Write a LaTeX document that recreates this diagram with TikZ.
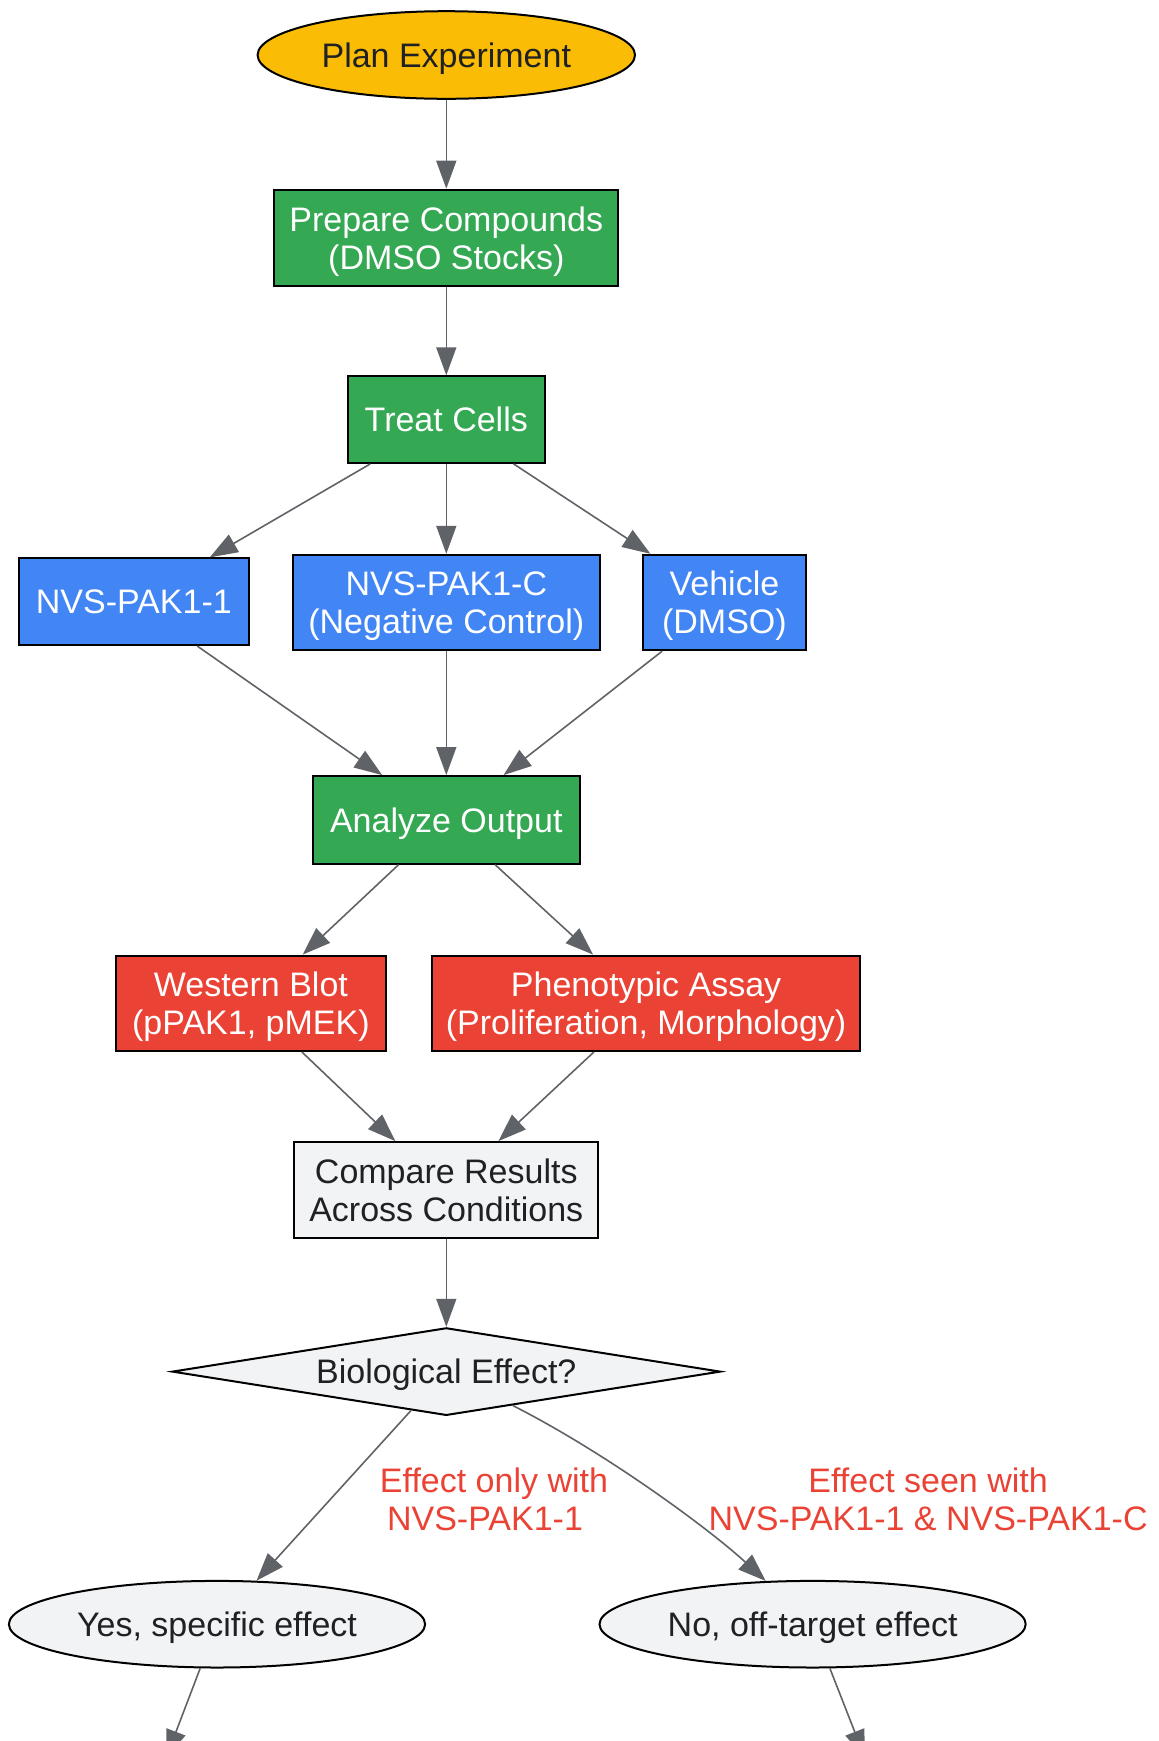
\documentclass[tikz,border=0pt]{standalone}
\usepackage{fontspec}
\setmainfont{Liberation Sans}
\usetikzlibrary{
	shapes.geometric,
	arrows.meta}

\definecolor{gyellow}{HTML}{FBBC05}
\definecolor{ggreen}{HTML}{34A853}
\definecolor{gblue}{HTML}{4285F4}
\definecolor{gred}{HTML}{EA4335}
\definecolor{glight}{HTML}{F1F3F4}
\definecolor{gline}{HTML}{5F6368}
\definecolor{gtext}{HTML}{202124}

\tikzset{
	base/.style={draw=black,line width=1pt,inner sep=0pt,text depth=0pt,font=\fontsize{17}{19}\selectfont},
	startnode/.style={base,ellipse,fill=gyellow,text=gtext},
	stepbox/.style={base,rectangle,fill=ggreen,text=white},
	cmpdbox/.style={base,rectangle,fill=gblue,text=white},
	readbox/.style={base,rectangle,fill=gred,text=white},
	plainbox/.style={base,rectangle,fill=glight,text=gtext},
	decide/.style={base,diamond,shape aspect=6.25,fill=glight,text=gtext},
	outcome/.style={base,ellipse,fill=glight,text=gtext},
	elabel/.style={text=gred,font=\fontsize{17}{19}\selectfont}}

\begin{document}
\begin{tikzpicture}[x=0.5pt,y=-0.5pt,every text node part/.style={align=center},
	>={Triangle[length=14pt,width=10pt]},every path/.style={line width=0.8pt}]

	\useasboundingbox (0,0) rectangle (1159,1741);

		% Workflow
        \node[startnode,minimum width=188.7pt,minimum height=43.8pt] (plan) at (446.3,55) {Plan Experiment};
        \node[stepbox,minimum width=172.1pt,minimum height=48.3pt] (prep) at (446.3,238) {Prepare Compounds\\(DMSO Stocks)};
        \node[stepbox,minimum width=98.8pt,minimum height=43.3pt] (treat) at (446.3,419.6) {Treat Cells};
        \node[cmpdbox,minimum width=114.9pt,minimum height=43.3pt] (nvs1) at (133.8,601.7) {NVS-PAK1-1};
        \node[cmpdbox,minimum width=153.2pt,minimum height=47.7pt] (nvsc) at (446.3,602.5) {NVS-PAK1-C\\(Negative Control)};
        \node[cmpdbox,minimum width=81.6pt,minimum height=47.7pt] (veh) at (724.4,602.5) {Vehicle\\(DMSO)};
        \node[stepbox,minimum width=133.2pt,minimum height=43.8pt] (ana) at (446.3,819.9) {Analyze Output};
        \node[readbox,minimum width=135.4pt,minimum height=47.7pt] (wb) at (250.9,1003.3) {Western Blot\\(pPAK1, pMEK)};
        \node[readbox,minimum width=214.3pt,minimum height=47.7pt] (pheno) at (646.1,1003.3) {Phenotypic Assay\\(Proliferation, Morphology)};
        \node[plainbox,minimum width=152.1pt,minimum height=47.7pt] (cmp) at (446.3,1189.8) {Compare Results\\Across Conditions};
        \node[decide,minimum width=274.2pt,minimum height=43.8pt] (dec) at (446.3,1371.6) {Biological Effect?};
        \node[outcome,minimum width=208.1pt,minimum height=43.3pt] (yes) at (217,1624.2) {Yes, specific effect};
        \node[outcome,minimum width=213.1pt,minimum height=43.3pt] (no) at (812.6,1624.2) {No, off-target effect};

		% labels
        \node[elabel] (lyes) at (494,1499.5) {Effect only with\\NVS-PAK1-1\hspace*{9pt}};
        \node[elabel] (lno) at (928.1,1499.5) {Effect seen with\\NVS-PAK1-1 \& NVS-PAK1-C};

        \coordinate (yesnext) at (166,1758);
        \coordinate (nonext) at (865,1758);

	\begin{scope}[draw=gline,->]
		\draw (plan)  to (prep);
		\draw (prep)  to (treat);
		\draw (treat) to (nvs1);
		\draw (treat) to (nvsc);
		\draw (treat) to (veh);
		\draw (nvs1)  to (ana);
		\draw (nvsc)  to (ana);
		\draw (veh)   to (ana);
		\draw (ana)   to (wb);
		\draw (ana)   to (pheno);
		\draw (wb)    to (cmp);
		\draw (pheno) to (cmp);
		\draw (cmp)   to (dec);
		\draw (dec)   to (yes);
		\draw (dec) .. controls (608,1454) and (710.5,1530) .. (no);
		\draw (yes)   to (yesnext);
		\draw (no)    to (nonext);
	\end{scope}

	\end{tikzpicture}
\end{document}
